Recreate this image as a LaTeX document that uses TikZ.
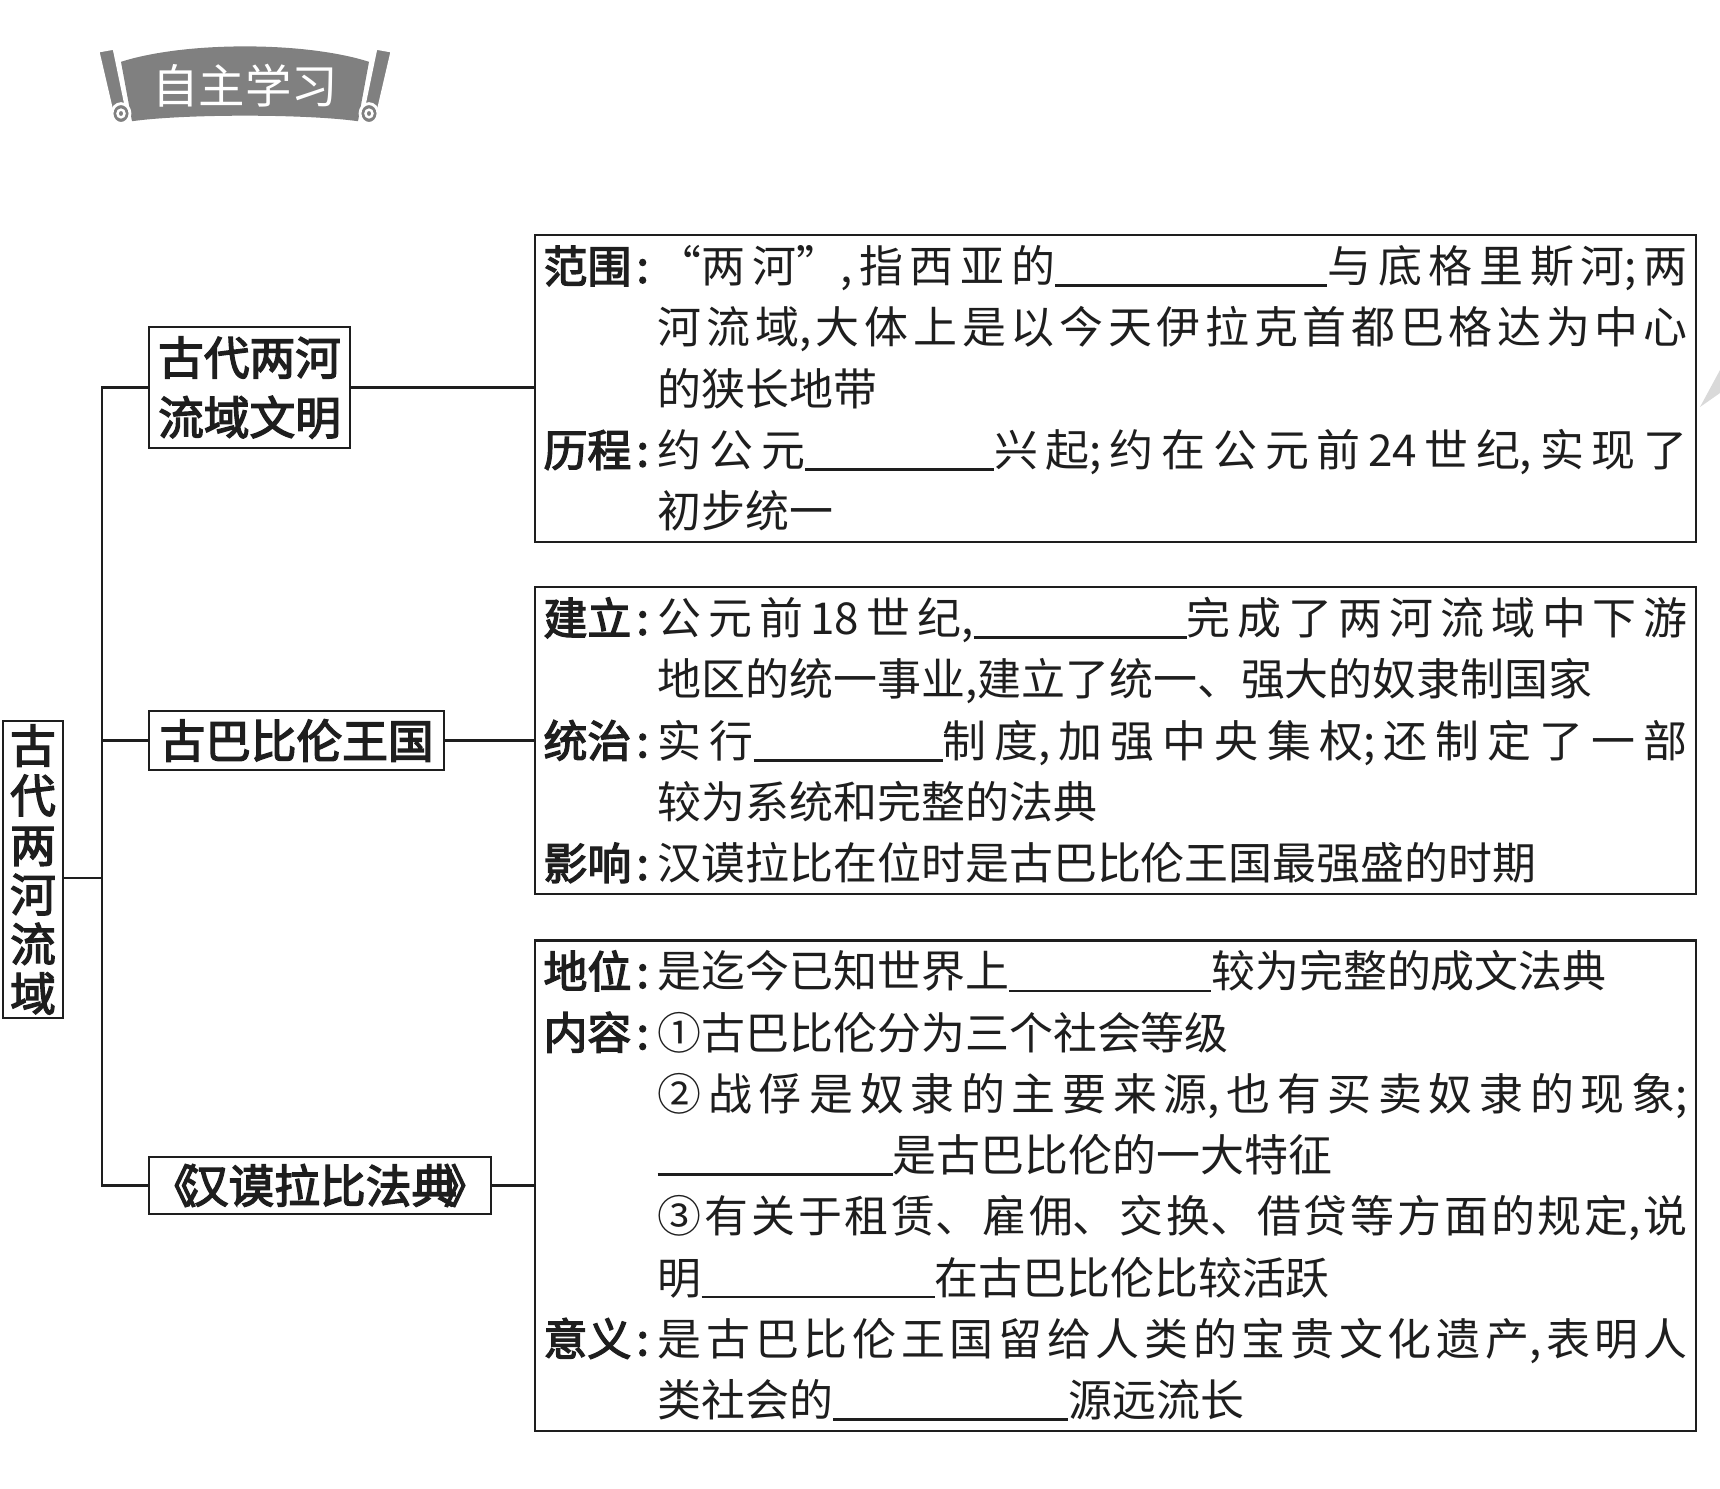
\documentclass[tikz,border=0pt]{standalone}
\usepackage{fontspec}
\usepackage{tikz}
\usetikzlibrary{calc}
\setmainfont{Noto Sans CJK SC}
\newfontfamily\heavy[FakeBold=3]{Noto Sans CJK SC}
\XeTeXlinebreaklocale "zh"
\XeTeXlinebreakskip=0pt plus 3pt minus 0.4pt
\setlength{\parindent}{0pt}
\tolerance=10000
\definecolor{ribbongray}{RGB}{128,128,128}
\definecolor{inkcolor}{RGB}{30,30,30}

\newcommand{\mystrut}{\rule[-3.97pt]{0pt}{17.43pt}}
\newcommand{\blank}[1]{\rule[-0.1em]{#1}{0.75pt}}
\newcommand{\entry}[1]{\hangindent=2.6em\hangafter=1\mystrut\makebox[2.6em][l]{\heavy #1\hspace{0.12em}:}}

\begin{document}
\begin{tikzpicture}[
    line/.style={line width=0.6pt, draw=inkcolor},
    topic/.style={draw=inkcolor, line width=0.6pt, text=inkcolor, font=\fontsize{13}{17}\selectfont\heavy,
      inner xsep=0pt, inner ysep=0pt, align=center, anchor=west},
    detail/.style={draw=inkcolor, line width=0.6pt, text=inkcolor, text width=11.44cm, inner xsep=0.085cm,
      inner ysep=0pt, align=justify, font=\fontsize{12.5}{17.43}\selectfont},
    ribbon/.style={fill=ribbongray},
    tab/.style={fill=ribbongray, draw=white, line width=0.8pt},
  ]
  \useasboundingbox (0,0) rectangle (17.2,-14.88);

  % Banner
  \begin{scope}[shift={(2.45,-0.86)}, yscale=1.1]
    \fill[ribbon] (-1.24,0.22) .. controls (-0.6,0.407) and (0.6,0.407) .. (1.24,0.22)
      -- (1.13,-0.32) .. controls (0.6,-0.253) and (-0.6,-0.253) .. (-1.13,-0.32) -- cycle;
    \path[tab] (-1.47,0.317) -- (-1.31,0.343) -- (-1.17,-0.27) -- (-1.33,-0.23) -- cycle;
    \path[tab] (1.47,0.317) -- (1.31,0.343) -- (1.17,-0.27) -- (1.33,-0.23) -- cycle;
    \path[tab] (-1.24,-0.25) circle (0.09);
    \path[tab] (1.24,-0.25) circle (0.09);
    \draw[white, line width=0.7pt] (-1.24,-0.25) circle (0.035);
    \draw[white, line width=0.7pt] (1.24,-0.25) circle (0.035);
    \node[text=white, font=\fontsize{13.2}{15}\selectfont] (banner) at (0,0.0) {自主学习};
  \end{scope}

  % Faint wedge at the page edge
  \fill[black!15] (17.0,-4.07) -- (17.2,-3.70) -- (17.2,-3.93) -- cycle;

  % Root and topics
  \node[topic, anchor=center, minimum width=0.6cm, minimum height=2.97cm,
        font=\fontsize{13}{14.1}\selectfont\heavy] (root) at (0.33,-8.695) {古\\代\\两\\河\\流\\域};
  \node[topic, minimum width=2.01cm, minimum height=1.21cm] (civ) at (1.48,-3.875) {古代两河\\流域文明};
  \node[topic, minimum width=2.95cm, minimum height=0.59cm] (bab) at (1.48,-7.405) {古巴比伦王国};
  \node[topic, minimum width=3.42cm, minimum height=0.57cm] (law) at (1.48,-11.855) {《\kern-0.3em 汉谟拉比法典\kern-0.3em》};

  % Detail boxes
  \node[detail] (civtext) at (11.155,-3.885) {%
    \entry{范围}“两河”,指西亚的\blank{6.2em}与底格里斯河;两\linebreak 河流域,大体上是以今天伊拉克首都巴格达为中心\linebreak 的狭长地带\par
    \entry{历程}约公元\blank{4.3em}兴起;约在公元前\,24\,世纪,实现了\linebreak 初步统一\mystrut\par};
  \node[detail] (babtext) at (11.155,-7.405) {%
    \entry{建立}公元前\,18\,世纪,\blank{4.85em}完成了两河流域中下游\linebreak 地区的统一事业,建立了统一、强大的奴隶制国家\par
    \entry{统治}实行\blank{4.3em}制度,加强中央集权;还制定了一部\linebreak 较为系统和完整的法典\par
    \entry{影响}汉谟拉比在位时是古巴比伦王国最强盛的时期\mystrut\par};
  \node[detail] (lawtext) at (11.155,-11.855) {%
    \entry{地位}是迄今已知世界上\blank{4.6em}较为完整的成文法典\par
    \entry{内容}①古巴比伦分为三个社会等级\\②战俘是奴隶的主要来源,也有买卖奴隶的现象;\linebreak\blank{5.35em}是古巴比伦的一大特征\\③有关于租赁、雇佣、交换、借贷等方面的规定,说\linebreak 明\blank{5.3em}在古巴比伦比较活跃\par
    \entry{意义}是古巴比伦王国留给人类的宝贵文化遗产,表明人\linebreak 类社会的\blank{5.35em}源远流长\mystrut\par};

  % Trunk
  \coordinate (tr) at (1.02,-8.78);
  \draw[line] (root.east |- tr) -- (tr);
  \draw[line] (civ.west) -- (civ.west -| tr) -- (law.west -| tr) -- (law.west);
  \draw[line] (bab.west) -- (bab.west -| tr);

  % Topic to detail
  \draw[line] (civ.east) -- (civ.east -| civtext.west);
  \draw[line] (bab.east) -- (bab.east -| babtext.west);
  \draw[line] (law.east) -- (law.east -| lawtext.west);
\end{tikzpicture}
\end{document}
